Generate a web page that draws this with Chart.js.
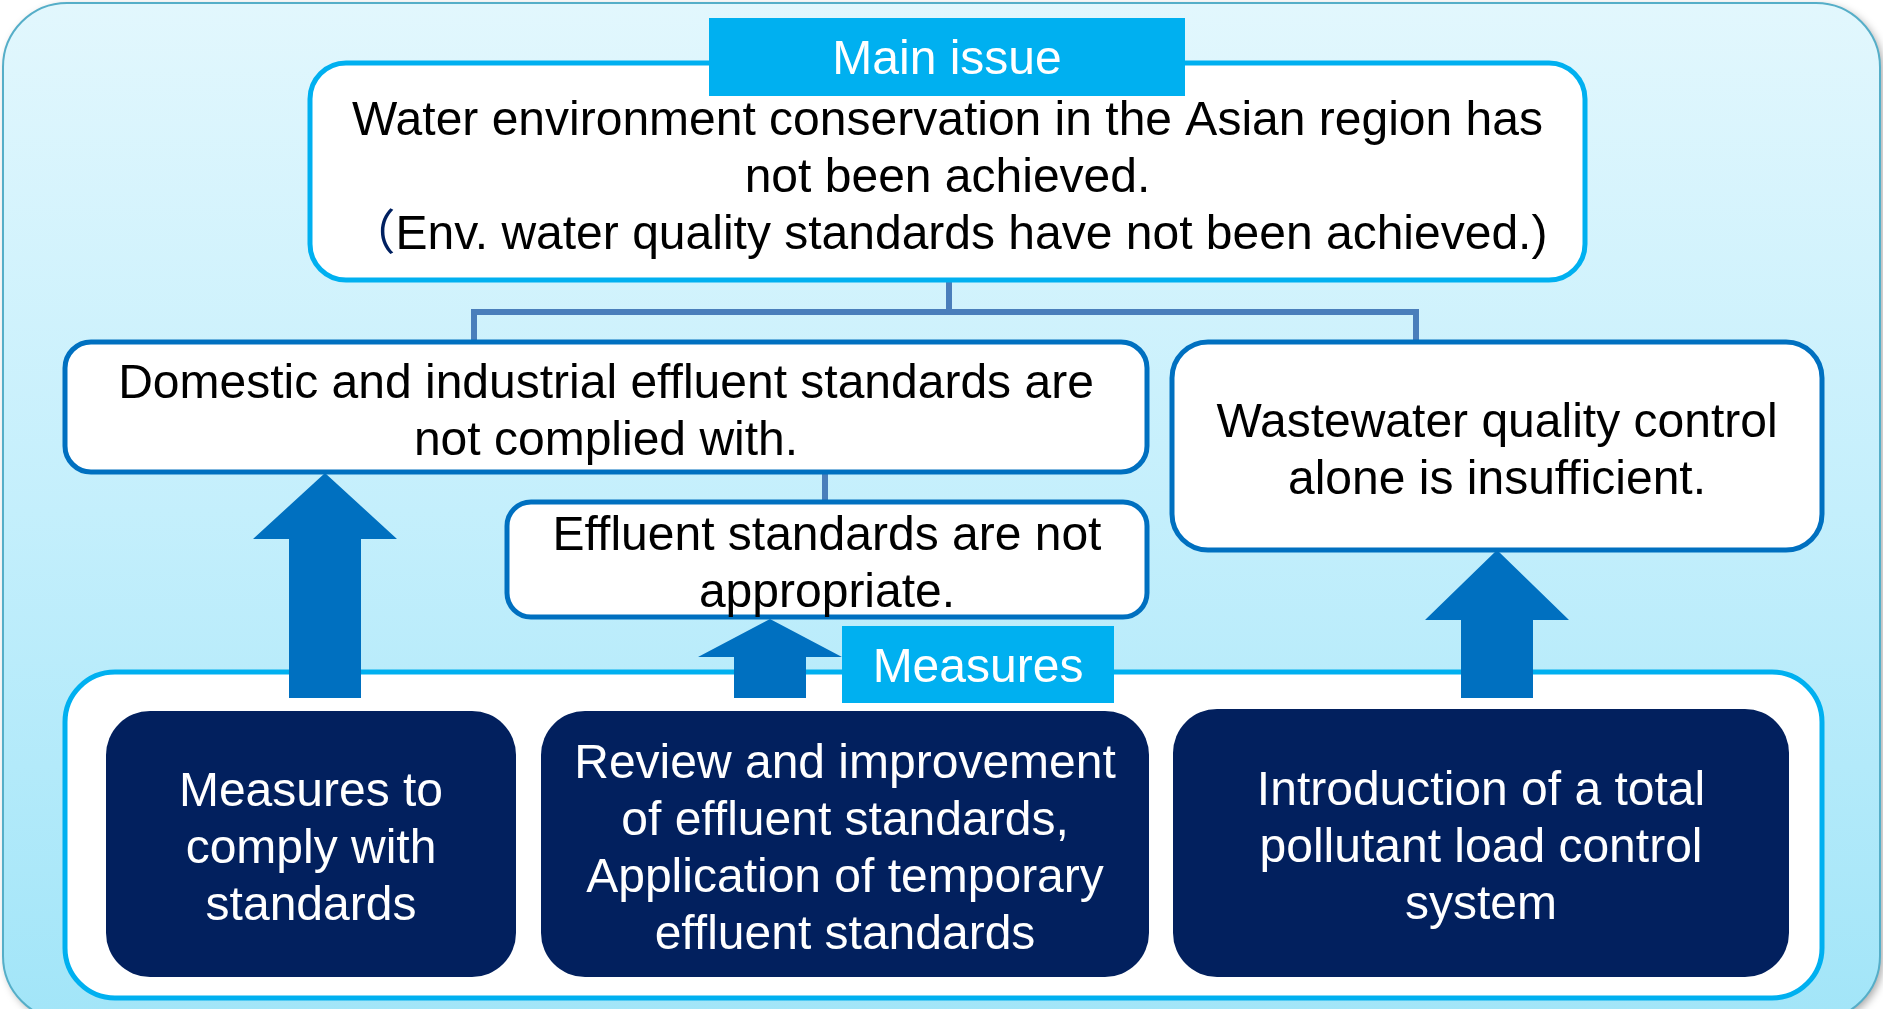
<!DOCTYPE html>
<html>
<head>
<meta charset="utf-8">
<script src="https://cdn.jsdelivr.net/npm/chart.js@4"></script>
<style>
  html, body { margin: 0; padding: 0; background: #ffffff; }
  #wrap { width: 1883px; height: 1009px; position: relative; }
</style>
</head>
<body>
<div id="wrap"><canvas id="issueChart"></canvas></div>
<script>
// texts of the diagram
const issueTitle = "Main issue";
const issueLines = [
    "Water environment conservation in the Asian region has",
    "not been achieved.",
    "（Env. water quality standards have not been achieved.)"
];
const causeLines = [
    ["Domestic and industrial effluent standards are", "not complied with."],
    ["Effluent standards are not", "appropriate."],
    ["Wastewater quality control", "alone is insufficient."]
];
const measuresTitle = "Measures";
const measureLines = [
    ["Measures to", "comply with", "standards"],
    ["Review and improvement", "of effluent standards,", "Application of temporary", "effluent standards"],
    ["Introduction of a total", "pollutant load control", "system"]
];

// layout, in the same units as the hidden axes
const layout = {
    outer: { x: 3, y: 3, w: 1877, h: 1017, r: 64 },
    issueBox: { x: 310, y: 63, w: 1275, h: 217, r: 36 },
    issueLabel: { x: 709, y: 18, w: 476, h: 78 },
    causeBoxes: [
        { x: 65, y: 342, w: 1082, h: 130, r: 26 },
        { x: 507, y: 502, w: 640, h: 115, r: 24 },
        { x: 1172, y: 342, w: 650, h: 208, r: 36 }
    ],
    panel: { x: 65, y: 672, w: 1757, h: 326, r: 50 },
    measuresLabel: { x: 842, y: 626, w: 272, h: 77 },
    measureBoxes: [
        { x: 106, y: 711, w: 410, h: 266, r: 44 },
        { x: 541, y: 711, w: 608, h: 266, r: 44 },
        { x: 1173, y: 709, w: 616, h: 268, r: 44 }
    ],
    arrows: [
        { cx: 325, tip: 473, neck: 539, bottom: 698, head: 72, shaft: 36 },
        { cx: 770, tip: 619, neck: 657, bottom: 698, head: 72, shaft: 36 },
        { cx: 1497, tip: 550, neck: 620, bottom: 698, head: 72, shaft: 36 }
    ],
    // connector polylines
    links: [
        [[949, 280], [949, 312]],
        [[474, 345], [474, 312], [1416, 312], [1416, 345]],
        [[825, 472], [825, 502]]
    ],
    fontSize: 48,
    lineHeight: 57
};

const FONT = '"Liberation Sans", Arial, "Noto Sans CJK JP", sans-serif';

function roundRectPath(ctx, x, y, w, h, r) {
    ctx.beginPath();
    ctx.moveTo(x + r, y);
    ctx.lineTo(x + w - r, y);
    ctx.arcTo(x + w, y, x + w, y + r, r);
    ctx.lineTo(x + w, y + h - r);
    ctx.arcTo(x + w, y + h, x + w - r, y + h, r);
    ctx.lineTo(x + r, y + h);
    ctx.arcTo(x, y + h, x, y + h - r, r);
    ctx.lineTo(x, y + r);
    ctx.arcTo(x, y, x + r, y, r);
    ctx.closePath();
}

const diagramPlugin = {
    id: "diagram",
    afterDraw(chart) {
        const ctx = chart.ctx;
        const sx = chart.scales.x, sy = chart.scales.y;
        const px = v => sx.getPixelForValue(v);
        const py = v => sy.getPixelForValue(v);
        const rect = b => ({ x: px(b.x), y: py(b.y), w: px(b.x + b.w) - px(b.x), h: py(b.y + b.h) - py(b.y) });

        function box(b, fill, stroke, lw) {
            const r = rect(b);
            roundRectPath(ctx, r.x, r.y, r.w, r.h, b.r || 0);
            ctx.fillStyle = fill;
            ctx.fill();
            if (stroke) {
                ctx.lineWidth = lw;
                ctx.strokeStyle = stroke;
                ctx.stroke();
            }
        }

        function label(b, text) {
            const r = rect(b);
            ctx.fillStyle = "#00b0f0";
            ctx.fillRect(r.x, r.y, r.w, r.h);
            writeLines([text], r.x + r.w / 2, r.y + r.h / 2, "#ffffff");
        }

        function writeLines(lines, cx, cy, color) {
            const fs = layout.fontSize;
            ctx.font = fs + "px " + FONT;
            ctx.textBaseline = "alphabetic";
            const lh = layout.lineHeight;
            const top = cy - (lines.length - 1) * lh / 2;
            lines.forEach((line, i) => {
                const y = top + i * lh + fs * 0.36;
                if (line.startsWith("（")) {
                    // opening bracket is set in navy
                    const rest = line.slice(1);
                    const wp = ctx.measureText("（").width;
                    const wr = ctx.measureText(rest).width;
                    const x0 = cx - (wp + wr) / 2;
                    ctx.textAlign = "left";
                    ctx.fillStyle = "#002060";
                    ctx.fillText("（", x0, y);
                    ctx.fillStyle = color;
                    ctx.fillText(rest, x0 + wp, y);
                } else {
                    ctx.textAlign = "center";
                    ctx.fillStyle = color;
                    ctx.fillText(line, cx, y);
                }
            });
        }

        ctx.save();

        // outer panel with soft gradient
        const o = rect(layout.outer);
        const grad = ctx.createLinearGradient(0, o.y, 0, o.y + o.h);
        grad.addColorStop(0, "#e2f7fd");
        grad.addColorStop(0.5, "#c4effc");
        grad.addColorStop(1, "#a2e5f8");
        ctx.save();
        ctx.shadowColor = "rgba(0,0,0,0.35)";
        ctx.shadowBlur = 8;
        ctx.shadowOffsetX = 3;
        ctx.shadowOffsetY = 3;
        roundRectPath(ctx, o.x, o.y, o.w, o.h, layout.outer.r);
        ctx.fillStyle = grad;
        ctx.fill();
        ctx.restore();
        roundRectPath(ctx, o.x, o.y, o.w, o.h, layout.outer.r);
        ctx.lineWidth = 2;
        ctx.strokeStyle = "#55aec8";
        ctx.stroke();

        // connectors
        ctx.strokeStyle = "#4a7ebb";
        ctx.lineWidth = 6;
        ctx.lineJoin = "miter";
        layout.links.forEach(pts => {
            ctx.beginPath();
            pts.forEach((p, i) => i ? ctx.lineTo(px(p[0]), py(p[1])) : ctx.moveTo(px(p[0]), py(p[1])));
            ctx.stroke();
        });

        // main issue
        box(layout.issueBox, "#ffffff", "#00b0f0", 5);
        const ib = rect(layout.issueBox);
        writeLines(issueLines, ib.x + ib.w / 2, ib.y + ib.h / 2 + 3, "#000000");
        label(layout.issueLabel, issueTitle);

        // causes
        layout.causeBoxes.forEach((b, i) => {
            box(b, "#ffffff", "#0070c0", 5);
            const r = rect(b);
            writeLines(causeLines[i], r.x + r.w / 2, r.y + r.h / 2 + 2, "#000000");
        });

        // measures panel
        box(layout.panel, "#ffffff", "#00b0f0", 5);
        label(layout.measuresLabel, measuresTitle);

        // arrows
        ctx.fillStyle = "#0070c0";
        layout.arrows.forEach(a => {
            ctx.beginPath();
            ctx.moveTo(px(a.cx), py(a.tip));
            ctx.lineTo(px(a.cx + a.head), py(a.neck));
            ctx.lineTo(px(a.cx + a.shaft), py(a.neck));
            ctx.lineTo(px(a.cx + a.shaft), py(a.bottom));
            ctx.lineTo(px(a.cx - a.shaft), py(a.bottom));
            ctx.lineTo(px(a.cx - a.shaft), py(a.neck));
            ctx.lineTo(px(a.cx - a.head), py(a.neck));
            ctx.closePath();
            ctx.fill();
        });

        // measure boxes
        layout.measureBoxes.forEach((b, i) => {
            box(b, "#02205e", null, 0);
            const r = rect(b);
            writeLines(measureLines[i], r.x + r.w / 2, r.y + r.h / 2 + 2, "#ffffff");
        });

        ctx.restore();
    }
};

const chart = new Chart(document.getElementById("issueChart"), {
    type: "scatter",
    data: { datasets: [] },
    options: {
        responsive: true,
        maintainAspectRatio: false,
        animation: false,
        layout: { padding: 0 },
        plugins: { legend: { display: false }, tooltip: { enabled: false } },
        scales: {
            x: { type: "linear", min: 0, max: 1883, display: false },
            y: { type: "linear", min: 0, max: 1009, reverse: true, display: false }
        }
    },
    plugins: [diagramPlugin]
});
</script>
</body>
</html>
